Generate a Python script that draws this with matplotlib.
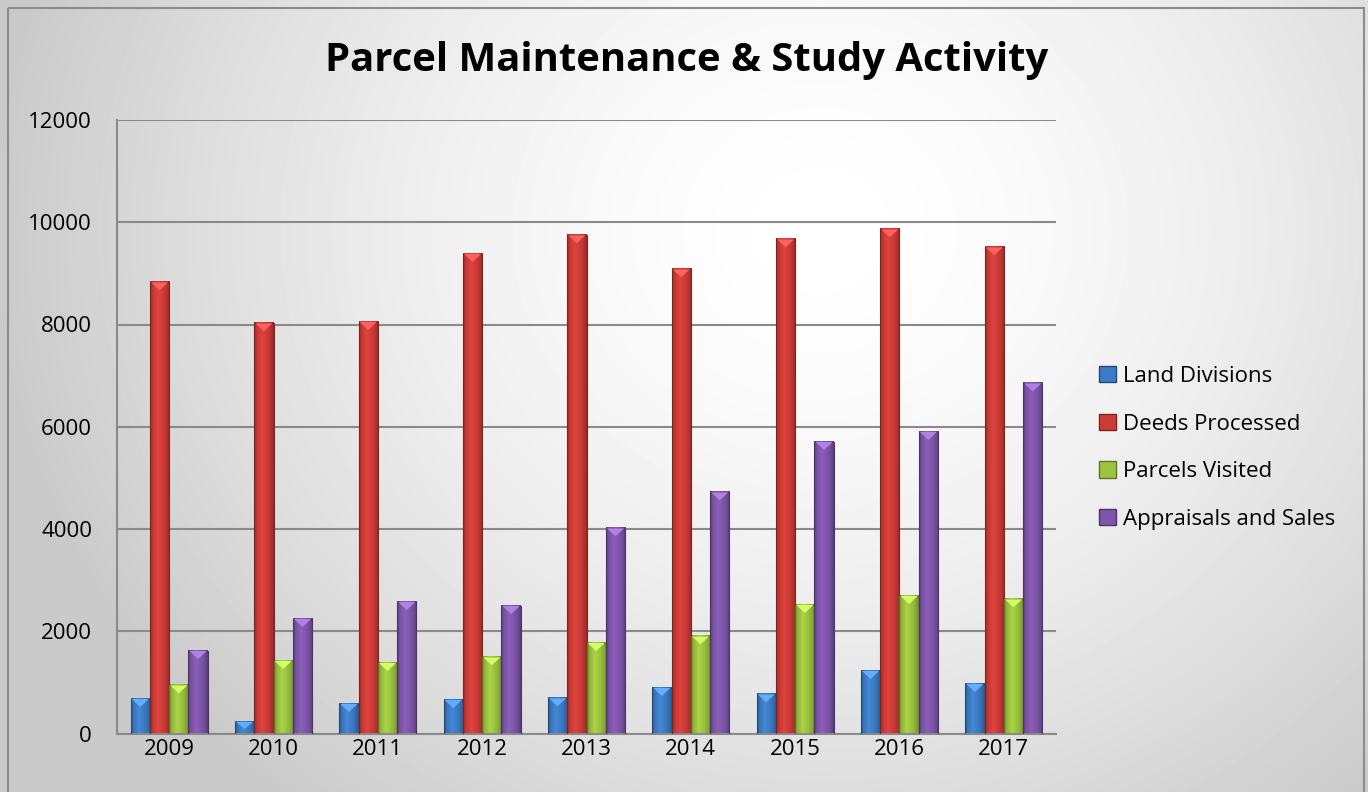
import matplotlib.pyplot as plt
import matplotlib.colors as mcolors
from matplotlib.patches import Rectangle, Polygon, Patch
import numpy as np

plt.rcParams['font.family'] = ['Open Sans', 'DejaVu Sans']

years = ['2009', '2010', '2011', '2012', '2013', '2014', '2015', '2016', '2017']
land_divisions = [675, 225, 577, 655, 689, 890, 767, 1223, 968]
deeds_processed = [8826, 8024, 8050, 9380, 9746, 9080, 9667, 9863, 9511]
parcels_visited = [943, 1418, 1379, 1491, 1770, 1901, 2514, 2690, 2625]
appraisals_sales = [1614, 2240, 2572, 2494, 4014, 4718, 5702, 5898, 6850]

series = [
    ('Land Divisions', land_divisions, '#3a7cc6'),
    ('Deeds Processed', deeds_processed, '#d03a36'),
    ('Parcels Visited', parcels_visited, '#9cc43e'),
    ('Appraisals and Sales', appraisals_sales, '#7f55ab'),
]

W, H = 1368, 792
fig = plt.figure(figsize=(W / 100, H / 100), dpi=100)

# radial gray-to-white background of the chart area
bg = fig.add_axes([0, 0, 1, 1])
bg.set_axis_off()
yy, xx = np.mgrid[0:H, 0:W]
r = np.hypot((xx - 820) / 1.0, (yy - 230) / 0.9)
shade = 1 - 0.21 * np.clip(r / 830, 0, 1) ** 1.6
bg.imshow(shade, cmap='gray', vmin=0, vmax=1, extent=[0, W, H, 0], aspect='auto')
bg.add_patch(Rectangle((8, 8), 1356, H - 6, fill=False, edgecolor='#8c8c8c', linewidth=1.5))
bg.set_xlim(0, W)
bg.set_ylim(H, 0)

left, right, top, bottom = 117, 1056, 120, 733.5
ax = fig.add_axes([left / W, (H - bottom) / H, (right - left) / W, (bottom - top) / H])
ax.set_facecolor('none')

ymax = 12000
n = len(years)
x = np.arange(n)
bw = 0.185
offsets = (np.arange(4) - 1.5) * bw
px_per_unit = (bottom - top) / ymax
chevron = 8 / px_per_unit


def shaded(color):
    base = np.array(mcolors.to_rgb(color))
    dark = base * 0.72
    light = np.clip(base * 1.12 + 0.04, 0, 1)
    t = np.linspace(0, 1, 40)
    prof = np.interp(t, [0, 0.12, 0.4, 0.75, 0.9, 1], [0, 0.55, 1, 0.6, 0.3, 0])
    prof = prof[:, None]
    rows = dark * (1 - prof) + light * prof * 0.5 + base * prof * 0.5
    return rows[None, :, :]


for k, (name, vals, color) in enumerate(series):
    img = shaded(color)
    base = np.array(mcolors.to_rgb(color))
    for i, v in enumerate(vals):
        x0 = x[i] + offsets[k] - bw / 2
        x1 = x0 + bw
        ax.imshow(img, extent=[x0, x1, 0, v], aspect='auto', zorder=3, interpolation='bilinear')
        ax.add_patch(Rectangle((x0, 0), bw, v, fill=False,
                               edgecolor=base * 0.6, linewidth=0.8, zorder=4))
        tri = Polygon([[x0 + 0.01, v], [x1 - 0.01, v], [(x0 + x1) / 2, v - min(chevron, v * 0.6)]],
                      closed=True, facecolor=np.clip(base * 1.15 + 0.12, 0, 1),
                      edgecolor='none', zorder=5)
        ax.add_patch(tri)

ax.set_xlim(-0.5, n - 0.5)
ax.set_ylim(0, ymax)
ax.set_yticks(np.arange(0, 12001, 2000))
ax.set_xticks(x)
ax.set_xticklabels(years)
ax.yaxis.grid(True, color='#8a8a8a', linewidth=1.5)
ax.set_axisbelow(True)
for s in ['top', 'right']:
    ax.spines[s].set_visible(False)
for s in ['left', 'bottom']:
    ax.spines[s].set_color('#8a8a8a')
    ax.spines[s].set_linewidth(1.5)
ax.tick_params(axis='y', length=0, pad=18, labelsize=16)
ax.tick_params(axis='x', length=0, pad=4, labelsize=16)

fig.text(687 / W, (H - 61) / H, 'Parcel Maintenance & Study Activity',
         ha='center', va='center', fontsize=28.8, fontweight='bold')

handles = [Patch(facecolor=c, edgecolor=np.array(mcolors.to_rgb(c)) * 0.6, label=nm)
           for nm, _, c in series]
fig.legend(handles=handles, loc='upper left', bbox_to_anchor=(1090 / W, (H - 357) / H),
           frameon=False, fontsize=16, handlelength=0.75, handleheight=0.75,
           handletextpad=0.35, labelspacing=1.2, borderaxespad=0)

fig.savefig('out.png', dpi=100)
